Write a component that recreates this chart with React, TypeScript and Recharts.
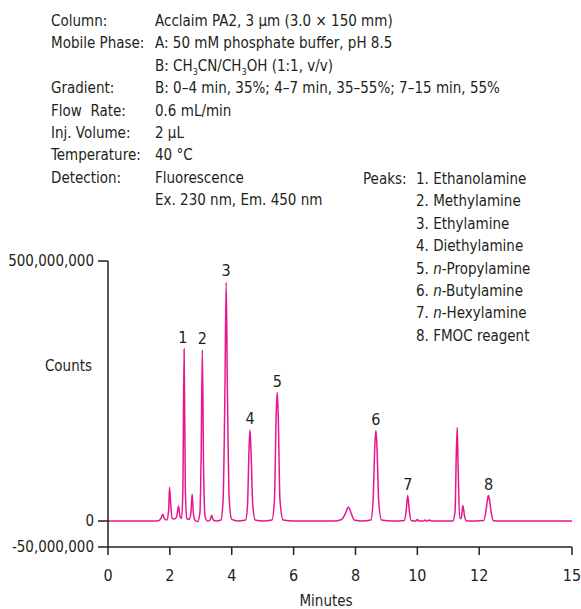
import { Line, LineChart, ReferenceDot, XAxis, YAxis } from "recharts";

const FONT = "'DejaVu Sans Condensed', 'Liberation Sans Narrow', Roboto, sans-serif";
const INK = "#231f20";
const TRACE = "#e6168c";

// retention time (min) and detector counts (millions)
const minutes = [
  0, 1.5, 1.65, 1.72, 1.77, 1.82, 1.9, 1.96, 1.99, 2.03, 2.07, 2.15, 2.22, 2.28, 2.33, 2.38,
  2.42, 2.46, 2.5, 2.55, 2.62, 2.68, 2.72, 2.76, 2.82, 2.9, 2.97, 3.01, 3.05, 3.09, 3.14, 3.22,
  3.3, 3.35, 3.4, 3.5, 3.65, 3.72, 3.78, 3.82, 3.86, 3.92, 4.0, 4.2, 4.45, 4.51, 4.56, 4.59,
  4.62, 4.68, 4.76, 5.0, 5.3, 5.38, 5.44, 5.47, 5.5, 5.56, 5.66, 6.0, 7.3, 7.55, 7.68, 7.77,
  7.86, 7.96, 8.2, 8.5, 8.57, 8.63, 8.66, 8.69, 8.75, 8.84, 9.2, 9.58, 9.64, 9.69, 9.74, 9.8,
  9.95, 10.0, 10.05, 10.2, 10.25, 10.3, 10.4, 10.45, 11.15, 11.22, 11.26, 11.29, 11.32, 11.37,
  11.42, 11.47, 11.53, 11.6, 12.15, 12.22, 12.27, 12.3, 12.33, 12.38, 12.45, 12.6, 15,
];
const countsM = [
  0, 0, 1, 6, 13, 5, 2, 20, 65, 30, 5, 4, 8, 29, 8, 5,
  60, 331, 60, 5, 3, 15, 52, 15, 1, -1, 15, 120, 329, 100, 8, 0,
  2, 11, 2, 0, 2, 40, 250, 459, 250, 40, 3, 0, 2, 30, 140, 175,
  140, 30, 2, 0, 2, 40, 210, 247, 210, 40, 2, 0, 0, 3, 15, 27,
  15, 2, 0, 2, 40, 150, 174, 150, 40, 2, 0, 1, 20, 49, 20, 1,
  0, 3, 0, 0, 2, 0, 2, 0, 0, 20, 130, 180, 100, 5,
  5, 30, 8, 0, 1, 20, 42, 49, 42, 20, 1, 0, 0,
];

const peakNumbers = ["1", "2", "3", "4", "5", "6", "7", "8"];
const peakTimes = [2.42, 3.05, 3.82, 4.59, 5.47, 8.66, 9.69, 12.3];
const peakApexM = [331, 329, 459, 175, 247, 174, 49, 49];

const xTicks = [0, 2, 4, 6, 8, 10, 12, 15];
const yTicks = [-50000000, 0, 500000000];

const conditionLabels = [
  "Column:", "Mobile Phase:", "", "Gradient:", "Flow  Rate:", "Inj. Volume:",
  "Temperature:", "Detection:", "",
];
const conditionValues = [
  "Acclaim PA2, 3 µm (3.0 × 150 mm)",
  "A: 50 mM phosphate buffer, pH 8.5",
  "B: CH3CN/CH3OH (1:1, v/v)",
  "B: 0–4 min, 35%; 4–7 min, 35–55%; 7–15 min, 55%",
  "0.6 mL/min",
  "2 µL",
  "40 °C",
  "Fluorescence",
  "Ex. 230 nm, Em. 450 nm",
];
const peakNames = [
  "Ethanolamine", "Methylamine", "Ethylamine", "Diethylamine",
  "n-Propylamine", "n-Butylamine", "n-Hexylamine", "FMOC reagent",
];

const data = minutes.map((t, i) => ({ t, counts: countsM[i] * 1e6 }));

function renderValue(v: string) {
  if (v.includes("CH3")) {
    return (
      <>
        B: CH<sub style={{ fontSize: 9, verticalAlign: -4 }}>3</sub>CN/CH
        <sub style={{ fontSize: 9, verticalAlign: -4 }}>3</sub>OH (1:1, v/v)
      </>
    );
  }
  return v;
}

function renderPeakName(n: string) {
  if (n.startsWith("n-")) {
    return (
      <>
        <i>n</i>
        {n.slice(1)}
      </>
    );
  }
  return n;
}

const LINE_H = 22.4;
const FS = 15;

export default function App() {
  return (
    <div
      style={{
        position: "absolute",
        left: 0,
        top: 0,
        width: 581,
        height: 609,
        background: "#fff",
        fontFamily: FONT,
        color: INK,
        fontSize: FS,
      }}
    >
      {conditionLabels.map((l, i) => (
        <div key={"l" + i} style={{ position: "absolute", left: 51, top: 11 + i * LINE_H, lineHeight: "20px", whiteSpace: "pre" }}>
          {l}
        </div>
      ))}
      {conditionValues.map((v, i) => (
        <div key={"v" + i} style={{ position: "absolute", left: 155, top: 11 + i * LINE_H, lineHeight: "20px", whiteSpace: "pre" }}>
          {renderValue(v)}
        </div>
      ))}
      <div style={{ position: "absolute", left: 363, top: 169, lineHeight: "20px" }}>Peaks:</div>
      {peakNames.map((n, i) => (
        <div key={"p" + i} style={{ position: "absolute", left: 416, top: 169 + i * LINE_H, lineHeight: "20px", whiteSpace: "pre" }}>
          {i + 1}. {renderPeakName(n)}
        </div>
      ))}
      <div style={{ position: "absolute", right: 581 - 92, top: 356, lineHeight: "20px" }}>Counts</div>
      <div style={{ position: "absolute", left: 326, top: 593, lineHeight: "16px", transform: "translateX(-50%)" }}>Minutes</div>

      <LineChart
        width={581}
        height={609}
        data={data}
        margin={{ top: 261, right: 9, bottom: 22, left: 0 }}
        style={{ position: "absolute", left: 0, top: 0 }}
      >
        <XAxis
          dataKey="t"
          type="number"
          domain={[0, 15]}
          ticks={xTicks}
          height={40}
          tickSize={8}
          tickMargin={15}
          stroke={INK}
          tick={{ fill: INK, fontSize: 16, fontFamily: FONT }}
          axisLine={{ stroke: INK, strokeWidth: 1.5 }}
          tickLine={{ stroke: INK, strokeWidth: 1.5 }}
        />
        <YAxis
          type="number"
          domain={[-50000000, 500000000]}
          ticks={yTicks}
          width={108}
          tickSize={10}
          tickMargin={4}
          stroke={INK}
          tickFormatter={(v: number) => v.toLocaleString("en-US")}
          tick={{ fill: INK, fontSize: FS, fontFamily: FONT }}
          axisLine={{ stroke: INK, strokeWidth: 1.5 }}
          tickLine={{ stroke: INK, strokeWidth: 1.5 }}
        />
        <Line
          type="monotone"
          dataKey="counts"
          stroke={TRACE}
          strokeWidth={1.5}
          dot={false}
          isAnimationActive={false}
        />
        {peakNumbers.map((p, i) => (
          <ReferenceDot
            key={p}
            x={peakTimes[i]}
            y={peakApexM[i] * 1e6}
            r={0}
            fill="none"
            stroke="none"
            label={{ value: p, position: "top", offset: 6, fill: INK, fontSize: 16, fontFamily: FONT }}
          />
        ))}
      </LineChart>
    </div>
  );
}
